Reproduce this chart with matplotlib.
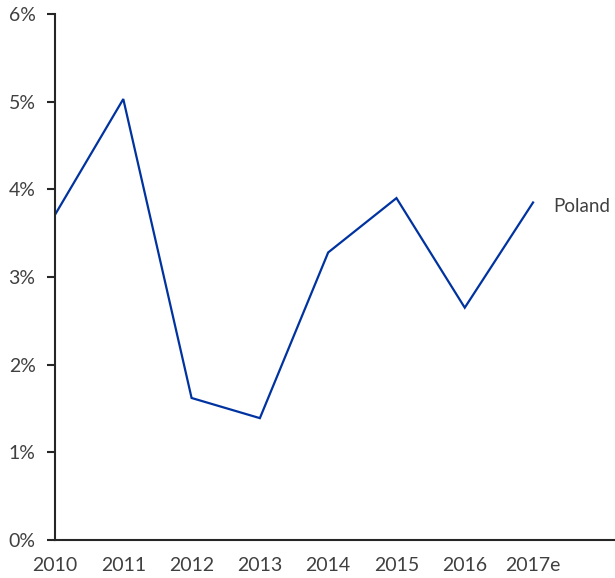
import matplotlib
matplotlib.use('Agg')
import matplotlib.pyplot as plt
from matplotlib.ticker import FuncFormatter

years = ['2010', '2011', '2012', '2013', '2014', '2015', '2016', '2017e']
growth = [3.71, 5.03, 1.62, 1.39, 3.28, 3.90, 2.65, 3.85]
series_name = 'Poland'

plt.rcParams['font.family'] = ['Lato', 'DejaVu Sans']
text_color = '#404040'

fig = plt.figure(figsize=(6.15, 5.78), dpi=100)
ax = fig.add_axes([55 / 615, 38 / 578, 560 / 615, 526 / 578])

x = list(range(len(years)))
ax.plot(x, growth, color='#0033A0', lw=1.6, solid_joinstyle='miter')
ax.text(x[-1] + 0.29, growth[-1] - 0.05, series_name, fontsize=13.5,
        color=text_color, va='center', ha='left')

ax.set_xlim(0, 8.2)
ax.set_ylim(0, 6)
ax.set_yticks(range(0, 7))
ax.yaxis.set_major_formatter(FuncFormatter(lambda v, p: f'{v:.0f}%'))
ax.set_xticks(x)
ax.set_xticklabels(years)

for s in ['top', 'right']:
    ax.spines[s].set_visible(False)
for s in ['left', 'bottom']:
    ax.spines[s].set_color('#262626')
    ax.spines[s].set_linewidth(1.5)

ax.tick_params(axis='y', length=6, width=1.5, color='#262626', pad=8,
               labelsize=14, labelcolor=text_color)
ax.tick_params(axis='x', length=0, pad=12, labelsize=14, labelcolor=text_color)

fig.savefig('out.png', dpi=100)
